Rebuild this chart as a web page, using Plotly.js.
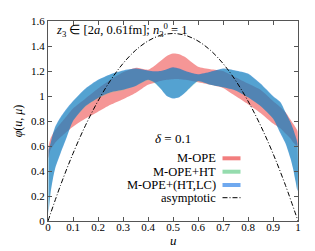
<!DOCTYPE html>
<html><head><meta charset="utf-8">
<script src="https://cdn.plot.ly/plotly-3.0.1.min.js"></script>
<style>html,body{margin:0;padding:0;background:#fff}#chart{width:315px;height:251px}</style>
</head><body><div id="chart"></div>
<script>
// u grid for the bands
const uBand = [0.002,0.01,0.02,0.03,0.05,0.075,0.1,0.15,0.2,0.25,0.3,0.35,0.4,0.425,0.45,0.475,0.5,0.525,0.55,0.575,0.6,0.65,0.7,0.75,0.8,0.85,0.9,0.93,0.95,0.97,0.98,0.99,0.998];
// M-OPE (red)
const mopeLow  = [0.50,0.57,0.60,0.63,0.67,0.715,0.755,0.82,0.875,0.93,0.975,1.025,1.09,1.105,1.12,1.13,1.135,1.135,1.13,1.12,1.11,1.09,1.065,1.0,0.935,0.865,0.78,0.74,0.70,0.66,0.63,0.61,0.60];
const mopeHigh = [0.60,0.66,0.70,0.73,0.78,0.84,0.90,0.98,1.06,1.13,1.19,1.225,1.21,1.24,1.28,1.32,1.34,1.335,1.31,1.27,1.235,1.215,1.20,1.15,1.10,1.05,0.96,0.91,0.87,0.81,0.78,0.75,0.72];
// M-OPE+HT (green, mostly hidden)
const htLow  = [0.07,0.23,0.35,0.44,0.55,0.68,0.80,0.915,0.98,1.025,1.045,1.08,1.125,1.105,1.06,1.005,0.985,0.995,1.03,1.075,1.115,1.09,1.07,1.045,0.99,0.92,0.82,0.71,0.63,0.51,0.43,0.33,0.25];
const htHigh = [0.56,0.61,0.69,0.75,0.82,0.89,0.955,1.055,1.125,1.17,1.20,1.215,1.20,1.193,1.195,1.21,1.225,1.215,1.195,1.18,1.17,1.19,1.215,1.20,1.175,1.095,0.995,0.945,0.865,0.785,0.735,0.675,0.615];
// M-OPE+(HT,LC) (blue)
const lcLow  = [0.06,0.22,0.34,0.43,0.54,0.67,0.80,0.92,0.985,1.03,1.05,1.08,1.13,1.11,1.06,1.0,0.98,0.99,1.03,1.08,1.12,1.09,1.07,1.045,0.99,0.92,0.82,0.70,0.62,0.50,0.42,0.32,0.24];
const lcHigh = [0.57,0.62,0.70,0.76,0.83,0.90,0.96,1.06,1.13,1.175,1.205,1.22,1.205,1.198,1.20,1.215,1.23,1.22,1.20,1.185,1.175,1.195,1.22,1.205,1.18,1.10,1.00,0.95,0.87,0.79,0.74,0.68,0.62];
// asymptotic DA
const uAsy = [0,0.05,0.1,0.15,0.2,0.25,0.3,0.35,0.4,0.45,0.5,0.55,0.6,0.65,0.7,0.75,0.8,0.85,0.9,0.95,1];
const phiAsy = [0,0.285,0.54,0.765,0.96,1.125,1.26,1.365,1.44,1.485,1.5,1.485,1.44,1.365,1.26,1.125,0.96,0.765,0.54,0.285,0];
const xTicks = [0,0.1,0.2,0.3,0.4,0.5,0.6,0.7,0.8,0.9,1];
const xTickText = ['0','0.1','0.2','0.3','0.4','0.5','0.6','0.7','0.8','0.9','1'];
const yTicks = [0,0.2,0.4,0.6,0.8,1,1.2,1.4,1.6];
const yTickText = ['0','0.2','0.4','0.6','0.8','1','1.2','1.4','1.6'];
const legendNames = ['M-OPE','M-OPE+HT','M-OPE+(HT,LC)','asymptotic'];

function band(low, high, color) {
  return {
    x: uBand.concat(uBand.slice().reverse()),
    y: low.concat(high.slice().reverse()),
    type: 'scatter', mode: 'lines', fill: 'toself',
    fillcolor: color, line: {width: 0, shape: 'spline', smoothing: 0.6},
    hoverinfo: 'skip', showlegend: false
  };
}
const traces = [
  band(mopeLow, mopeHigh, 'rgba(240,90,90,0.64)'),
  band(htLow, htHigh, 'rgba(110,205,150,0.3)'),
  band(lcLow, lcHigh, 'rgba(0,110,200,0.6)'),
  {x: uAsy, y: phiAsy, type: 'scatter', mode: 'lines', line: {color: '#000', width: 1, dash: '5px,2px,1px,2px', shape: 'spline'}, showlegend: false, hoverinfo: 'skip'}
];

const font = {family: 'Liberation Serif, serif', color: '#000'};
const legY = [0.3135, 0.2465, 0.18, 0.1165];
const swatchCol = ['#f27e7e', '#95dcae', '#6fa9ef'];
const annotations = [
  {xref: 'paper', yref: 'paper', x: 0.025, y: 0.955, xanchor: 'left', yanchor: 'middle', showarrow: false,
   text: '<i>z</i><sub>3</sub> ∈ [2<i>a</i>, 0.61fm]; <i>n</i><sub>3</sub><sup>0</sup> = 1', font: Object.assign({size: 12.5}, font)},
  {xref: 'paper', yref: 'paper', x: 0.5, y: 0.4135, xanchor: 'center', yanchor: 'middle', showarrow: false,
   text: '<i>δ</i> = 0.1', font: Object.assign({size: 13}, font)},
  {xref: 'paper', yref: 'paper', x: 0.5, y: -0.098, xanchor: 'center', yanchor: 'middle', showarrow: false,
   text: '<i>u</i>', font: Object.assign({size: 13}, font)}
];
const shapes = [];
legendNames.forEach((n, i) => {
  annotations.push({xref: 'paper', yref: 'paper', x: 0.68, y: legY[i], xanchor: 'right', yanchor: 'middle',
    showarrow: false, text: n, font: Object.assign({size: 12.5}, font)});
  if (i < 3) {
    shapes.push({type: 'line', xref: 'paper', yref: 'paper', x0: 0.698, x1: 0.77, y0: legY[i], y1: legY[i],
      line: {color: swatchCol[i], width: 4}});
  } else {
    shapes.push({type: 'line', xref: 'paper', yref: 'paper', x0: 0.698, x1: 0.77, y0: legY[i], y1: legY[i],
      line: {color: '#000', width: 1, dash: '5px,2px,1px,2px'}});
  }
});

const axCommon = {
  showgrid: false, zeroline: false, showline: true, linecolor: '#555', linewidth: 1,
  mirror: 'ticks', ticks: 'inside', ticklen: 4, tickcolor: '#555',
  tickfont: Object.assign({size: 11}, font), tickmode: 'array'
};
const layout = {
  width: 315, height: 251,
  margin: {l: 48, r: 17, t: 21, b: 30},
  paper_bgcolor: '#fff', plot_bgcolor: '#fff',
  showlegend: false,
  xaxis: Object.assign({}, axCommon, {range: [0, 1], tickvals: xTicks, ticktext: xTickText, ticklabelstandoff: -4}),
  yaxis: Object.assign({}, axCommon, {range: [0, 1.6], tickvals: yTicks, ticktext: yTickText,
    title: {text: '<i>φ</i>(<i>u</i>, <i>μ</i>)', font: Object.assign({size: 12}, font), standoff: 5}}),
  annotations: annotations,
  shapes: shapes
};
Plotly.newPlot('chart', traces, layout, {staticPlot: true, displayModeBar: false});
</script></body></html>
